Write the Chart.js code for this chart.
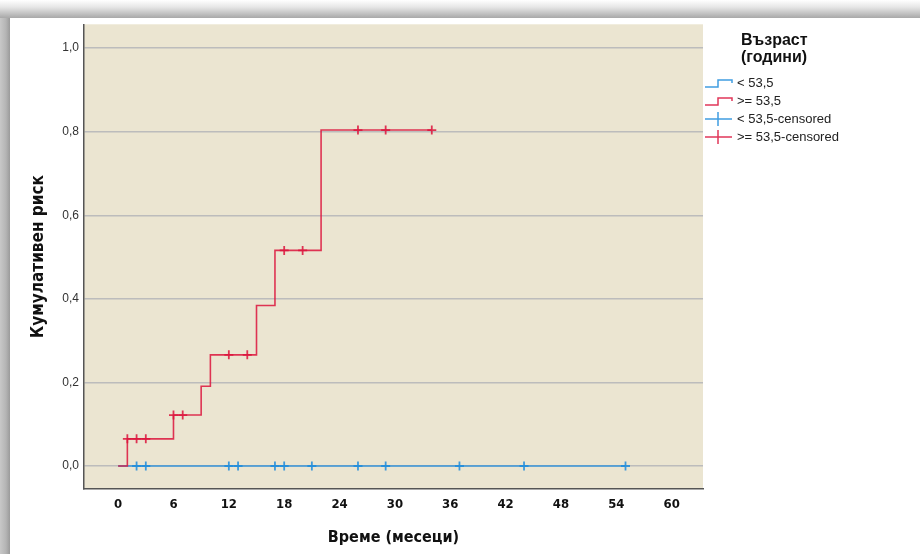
<!DOCTYPE html>
<html>
<head>
<meta charset="utf-8">
<script src="https://cdn.jsdelivr.net/npm/chart.js@4"></script>
<style>
  html, body { margin: 0; padding: 0; background: #fff; }
  #page { position: relative; width: 920px; height: 554px; overflow: hidden; }
  #shadowTop { position: absolute; left: 0; top: 0; width: 920px; height: 18px;
    background: linear-gradient(to bottom, #ffffff 0%, #e6e6e6 40%, #a8a8a8 100%); }
  #shadowLeft { position: absolute; left: 0; top: 18px; width: 10px; height: 536px;
    background: linear-gradient(to right, #c8c8c8 0%, #b4b4b4 60%, #9a9a9a 100%); }
  #panel { position: absolute; left: 10px; top: 18px; width: 910px; height: 536px; background: #fff; }
</style>
</head>
<body>
<div id="page">
  <div id="shadowTop"></div>
  <div id="shadowLeft"></div>
  <div id="panel"><canvas id="kmChart" width="910" height="536"></canvas></div>
</div>
<script>
// cumulative risk, age >= 53,5 (step at each event time)
const stepTimesHigh = [0, 1, 6, 9, 10, 15, 17, 22, 34];
const cumRiskHigh = [0, 0.065, 0.122, 0.191, 0.266, 0.384, 0.516, 0.804, 0.804];
const censTimesHigh = [1, 2, 3, 6, 7, 12, 14, 18, 20, 26, 29, 34];
const censRiskHigh = [0.065, 0.065, 0.065, 0.122, 0.122, 0.266, 0.266, 0.516, 0.516, 0.804, 0.804, 0.804];

// cumulative risk, age < 53,5 (no events)
const stepTimesLow = [0, 55];
const cumRiskLow = [0, 0];
const censTimesLow = [2, 3, 12, 13, 17, 18, 21, 26, 29, 37, 44, 55];
const censRiskLow = [0, 0, 0, 0, 0, 0, 0, 0, 0, 0, 0, 0];

const xTickValues = [0, 6, 12, 18, 24, 30, 36, 42, 48, 54, 60];
const yTickValues = [0, 0.2, 0.4, 0.6, 0.8, 1.0];

const legendTitle = ["Възраст", "(години)"];
const legendLabels = ["< 53,5", ">= 53,5", "< 53,5-censored", ">= 53,5-censored"];

const blue = "rgba(30, 140, 220, 0.85)";
const red = "rgba(220, 20, 60, 0.85)";
const narrow = "'Liberation Sans Narrow', 'Arial Narrow', 'DejaVu Sans Condensed', sans-serif";
const sans = "'Liberation Sans', Arial, sans-serif";

function pts(xs, ys) {
    return xs.map((x, i) => ({ x: x, y: ys[i] }));
}

const plotBg = {
    id: "plotBg",
    beforeDraw(chart) {
        const { ctx, chartArea: a } = chart;
        ctx.save();
        ctx.fillStyle = "#ebe5d1";
        ctx.fillRect(a.left, a.top, a.right - a.left, a.bottom - a.top);
        ctx.restore();
    }
};

const kmLegend = {
    id: "kmLegend",
    afterDraw(chart) {
        const ctx = chart.ctx;
        ctx.save();
        ctx.fillStyle = "#111";
        ctx.font = "bold 16px " + sans;
        ctx.textBaseline = "middle";
        ctx.fillText(legendTitle[0], 731, 23);
        ctx.fillText(legendTitle[1], 731, 40);

        const colors = [blue, red, blue, red];
        const x0 = 695, x1 = 722;
        ctx.font = "13px " + sans;
        legendLabels.forEach((label, i) => {
            const y = 65 + i * 18;
            ctx.strokeStyle = colors[i];
            ctx.lineWidth = 1.5;
            ctx.beginPath();
            if (i < 2) {
                ctx.moveTo(x0, y + 4);
                ctx.lineTo(x0 + 13, y + 4);
                ctx.lineTo(x0 + 13, y - 3);
                ctx.lineTo(x1, y - 3);
                ctx.lineTo(x1, y);
            } else {
                ctx.moveTo(x0, y);
                ctx.lineTo(x1, y);
                ctx.moveTo(x0 + 13, y - 7);
                ctx.lineTo(x0 + 13, y + 7);
            }
            ctx.stroke();
            ctx.fillStyle = "#222";
            ctx.fillText(label, x1 + 5, y);
        });
        ctx.restore();
    }
};

new Chart(document.getElementById("kmChart"), {
    type: "scatter",
    data: {
        datasets: [
            {
                label: legendLabels[0],
                data: pts(stepTimesLow, cumRiskLow),
                showLine: true,
                stepped: "before",
                borderColor: blue,
                borderWidth: 1.6,
                pointRadius: 0,
                order: 4
            },
            {
                label: legendLabels[2],
                data: pts(censTimesLow, censRiskLow),
                showLine: false,
                pointStyle: "cross",
                pointRadius: 4.5,
                borderColor: blue,
                borderWidth: 1.8,
                order: 3
            },
            {
                label: legendLabels[1],
                data: pts(stepTimesHigh, cumRiskHigh),
                showLine: true,
                stepped: "before",
                borderColor: red,
                borderWidth: 1.6,
                pointRadius: 0,
                order: 2
            },
            {
                label: legendLabels[3],
                data: pts(censTimesHigh, censRiskHigh),
                showLine: false,
                pointStyle: "cross",
                pointRadius: 4.5,
                borderColor: red,
                borderWidth: 1.8,
                order: 1
            }
        ]
    },
    options: {
        responsive: false,
        animation: false,
        devicePixelRatio: 1,
        layout: { padding: { left: 0, top: 5, right: 217, bottom: 0 } },
        plugins: {
            legend: { display: false },
            tooltip: { enabled: false }
        },
        scales: {
            x: {
                type: "linear",
                min: -3.7,
                max: 63.4,
                afterBuildTicks: (s) => { s.ticks = xTickValues.map(v => ({ value: v })); },
                afterFit: (s) => { s.height = 65; s.paddingLeft = 0; s.paddingRight = 0; },
                grid: { display: true, drawOnChartArea: false, drawTicks: false },
                border: { display: true, color: "#555", width: 1.5 },
                ticks: {
                    padding: 8,
                    color: "#111",
                    font: { family: narrow, size: 13, weight: "bold" },
                    maxRotation: 0
                },
                title: {
                    display: true,
                    text: "Време (месеци)",
                    color: "#111",
                    font: { family: narrow, size: 16, weight: "bold" },
                    padding: { top: 0, bottom: 7 }
                }
            },
            y: {
                type: "linear",
                min: -0.055,
                max: 1.057,
                afterBuildTicks: (s) => { s.ticks = yTickValues.map(v => ({ value: v })); },
                afterFit: (s) => { s.width = 74; s.paddingTop = 0; s.paddingBottom = 0; },
                grid: { color: "#bcbcbc", lineWidth: 1.5, drawTicks: false },
                border: { display: true, color: "#555", width: 1.5 },
                ticks: {
                    padding: 5,
                    color: "#333",
                    font: { family: sans, size: 12 },
                    callback: (v) => v.toFixed(1).replace(".", ",")
                },
                title: {
                    display: true,
                    text: "Кумулативен риск",
                    color: "#111",
                    font: { family: narrow, size: 17, weight: "bold" },
                    padding: { top: 18, bottom: 0 }
                }
            }
        }
    },
    plugins: [plotBg, kmLegend]
});
</script>
</body>
</html>
